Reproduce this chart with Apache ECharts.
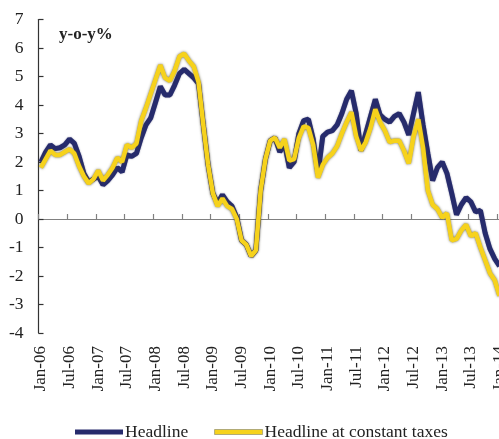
<!DOCTYPE html>
<html>
<head>
<meta charset="utf-8">
<script src="https://cdn.jsdelivr.net/npm/echarts@6/dist/echarts.min.js"></script>
<style>html,body{margin:0;padding:0;background:#fff;}#c{width:499px;height:439px;}</style>
</head>
<body>
<div id="c"></div>
<script>
var monthNames = ['Jan','Feb','Mar','Apr','May','Jun','Jul','Aug','Sep','Oct','Nov','Dec'];
var years = ['06','07','08','09','10','11','12','13','14'];
var categories = [];
years.forEach(function (y) { monthNames.forEach(function (m) { categories.push(m + '-' + y); }); });
categories = categories.slice(0, 98); // Jan-06 .. Feb-14

var headline = [
  2.0, 2.35, 2.6, 2.47, 2.5, 2.6, 2.8, 2.65, 2.2, 1.6, 1.3, 1.4,
  1.5, 1.2, 1.35, 1.55, 1.8, 1.65, 2.25, 2.2, 2.3, 2.85, 3.3, 3.55,
  4.1, 4.65, 4.35, 4.35, 4.7, 5.1, 5.25, 5.1, 4.95, 4.75, 3.3, 1.9,
  0.9, 0.55, 0.85, 0.6, 0.45, 0.05, -0.75, -0.9, -1.3, -1.1, 1.0, 2.1,
  2.75, 2.85, 2.35, 2.65, 1.8, 2.0, 3.0, 3.45, 3.5, 2.8, 1.6, 2.9,
  3.05, 3.1, 3.3, 3.7, 4.2, 4.5, 3.7, 2.4, 3.0, 3.6, 4.2, 3.65,
  3.5, 3.4, 3.6, 3.7, 3.4, 2.95, 3.7, 4.45, 3.3, 2.3, 1.35, 1.8,
  2.0, 1.6, 0.9, 0.15, 0.5, 0.75, 0.6, 0.25, 0.3, -0.5, -1.05, -1.4,
  -1.65
];
var constantTaxes = [
  1.8, 2.1, 2.4, 2.25, 2.25, 2.35, 2.45, 2.3, 1.85, 1.5, 1.25, 1.4,
  1.7, 1.35, 1.55, 1.8, 2.15, 2.0, 2.6, 2.5, 2.65, 3.45, 3.9, 4.4,
  4.9, 5.4, 4.95, 4.85, 5.2, 5.7, 5.8, 5.55, 5.35, 4.8, 3.3, 1.9,
  0.9, 0.45, 0.72, 0.45, 0.35, 0.0, -0.75, -0.9, -1.3, -1.1, 1.0, 2.1,
  2.75, 2.85, 2.5, 2.8, 2.05, 2.1, 2.85, 3.25, 3.2, 2.6, 1.45, 1.9,
  2.15, 2.3, 2.55, 3.0, 3.4, 3.75, 2.9, 2.4, 2.7, 3.2, 3.85, 3.4,
  3.1, 2.7, 2.75, 2.75, 2.4, 1.95, 2.9, 3.5, 2.5, 1.0, 0.5, 0.35,
  0.05, 0.2, -0.75, -0.7, -0.4, -0.2, -0.6, -0.5, -1.0, -1.45, -1.9, -2.15,
  -2.7
];
var yTicks = { min: -4, max: 7, interval: 1 };
var seriesNames = ['Headline', 'Headline at constant taxes'];

var FONT = '"Liberation Serif", "Times New Roman", serif';
var chart = echarts.init(document.getElementById('c'), null, { renderer: 'canvas' });
chart.setOption({
  animation: false,
  backgroundColor: '#ffffff',
  title: {
    text: 'y-o-y%', left: 59, top: 26, padding: 0,
    textStyle: { fontFamily: FONT, fontSize: 17, fontWeight: 'bold', color: '#222' }
  },
  grid: { left: 38.5, top: 19.5, height: 313.5, width: 468.2, containLabel: false, outerBoundsMode: 'none' },
  legend: {
    left: 70, top: 418, itemGap: 26, itemWidth: 48, itemHeight: 5,
    textStyle: { fontFamily: FONT, fontSize: 17.5, color: '#222', padding: [0, 0, 0, -3] },
    data: [
      { name: seriesNames[0], icon: 'rect', itemStyle: { color: '#262b6c' } },
      { name: seriesNames[1], icon: 'rect', itemStyle: { color: '#f6d21c', borderColor: '#a09a70', borderWidth: 0.8 } }
    ]
  },
  xAxis: [
    {
      type: 'category', data: categories, boundaryGap: true,
      axisLine: { onZero: true, lineStyle: { color: '#808080', width: 1.2 } },
      axisTick: { show: true, inside: true, length: 5, interval: function (i) { return i % 6 === 0; }, lineStyle: { color: '#808080', width: 1.2 } },
      axisLabel: { show: false },
      splitLine: { show: false }
    },
    {
      type: 'category', data: categories, boundaryGap: true, position: 'bottom',
      axisLine: { show: false, onZero: false },
      axisTick: { show: false },
      axisLabel: {
        interval: 5, rotate: 90, margin: 13,
        fontFamily: FONT, fontSize: 17, color: '#222'
      },
      splitLine: { show: false }
    }
  ],
  yAxis: {
    type: 'value', min: yTicks.min, max: yTicks.max, interval: yTicks.interval,
    axisLine: { show: true, lineStyle: { color: '#333', width: 1.2 } },
    axisTick: { show: true, inside: true, length: 5, lineStyle: { color: '#333', width: 1.2 } },
    axisLabel: { margin: 15, fontFamily: FONT, fontSize: 17.5, color: '#222' },
    splitLine: { show: false }
  },
  series: [
    {
      name: seriesNames[0], type: 'line', data: headline, xAxisIndex: 0,
      symbol: 'none', smooth: false,
      lineStyle: { color: '#262b6c', width: 5, shadowColor: 'rgba(40,40,90,0.6)', shadowBlur: 1.5 },
      itemStyle: { color: '#262b6c' }
    },
    {
      name: seriesNames[1], type: 'line', data: constantTaxes, xAxisIndex: 0,
      symbol: 'none', smooth: false,
      lineStyle: { color: '#f6d21c', width: 4.5, shadowColor: 'rgba(90,85,50,0.9)', shadowBlur: 2.5 },
      itemStyle: { color: '#f6d21c' }
    }
  ]
});
</script>
</body>
</html>
